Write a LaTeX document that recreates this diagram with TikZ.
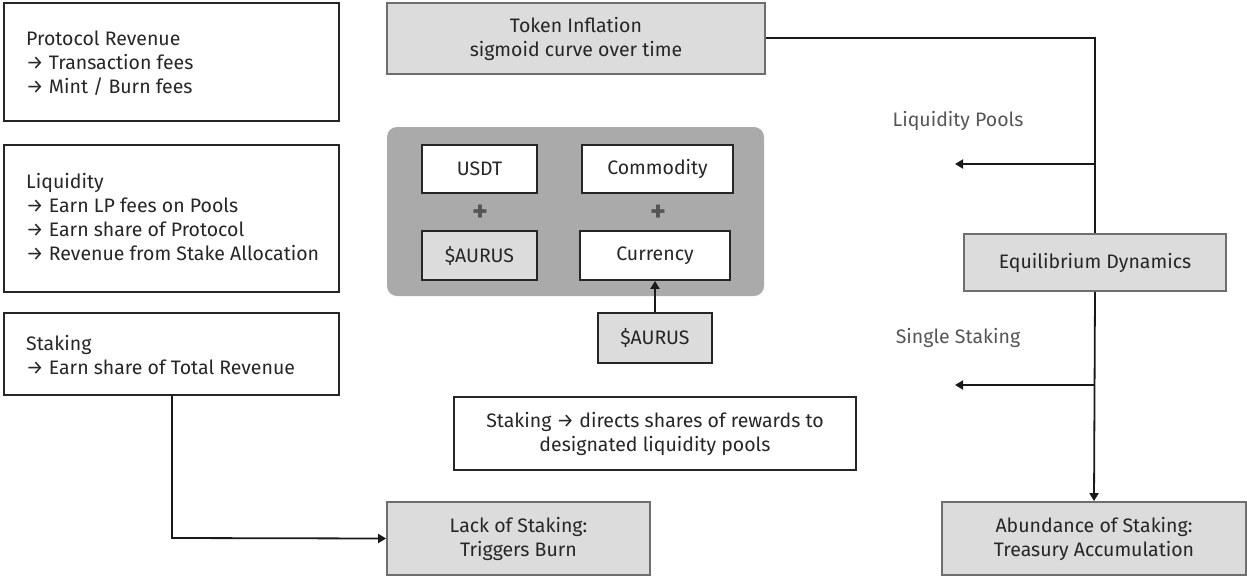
\documentclass[tikz,border=0pt]{standalone}
\usepackage{fontspec}
\setmainfont{Fira Sans}
\usetikzlibrary{arrows.meta}
\definecolor{boxgray}{HTML}{DCDCDC}
\definecolor{edgegray}{HTML}{6E6E6E}
\definecolor{contgray}{HTML}{AAAAAA}
\definecolor{labgray}{HTML}{555555}
\definecolor{plusgray}{HTML}{555555}
\begin{document}
\begin{tikzpicture}[x=1pt,y=-1pt,
  txt/.style={font=\fontsize{19.5}{24}\selectfont, text=black!85},
  ltxt/.style={txt, align=left, anchor=north west, inner sep=0pt},
  whitebox/.style={draw=black!85, line width=1.8pt, fill=white, minimum height=0pt, inner sep=0pt},
  graybox/.style={draw=edgegray, line width=1.8pt, fill=boxgray, inner sep=0pt},
  conn/.style={line width=1.8pt, draw=black!90},
  arr/.style={conn, -{Triangle[length=8pt,width=9pt]}},
  lab/.style={font=\fontsize{19.5}{24}\selectfont, text=labgray},
  plus/.style={font=\fontsize{30}{30}\selectfont\bfseries, text=plusgray}
]
\useasboundingbox (0,0) rectangle (1247,576);
% left boxes
\node[whitebox, minimum width=335pt, minimum height=118pt] (rev) at (171.5,62) {};
\node[ltxt] (revt) at (26,31) {Protocol Revenue\\→ Transaction fees\\→ Mint / Burn fees};
\node[whitebox, minimum width=335pt, minimum height=147pt] (liq) at (171.5,218.5) {};
\node[ltxt] (liqt) at (26,173.5) {Liquidity\\→ Earn LP fees on Pools\\→ Earn share of Protocol\\→ Revenue from Stake Allocation};
\node[whitebox, minimum width=335pt, minimum height=82pt] (stk) at (171.5,354) {};
\node[ltxt] (stkt) at (26,335) {Staking\\→ Earn share of Total Revenue};
% token inflation
\node[graybox, minimum width=378pt, minimum height=71pt, txt, align=center] (tok) at (576,38.5) {Token Inflation\\sigmoid curve over time};
% container
\node[draw=none, fill=contgray, rounded corners=10pt, minimum width=377pt, minimum height=169pt, inner sep=0pt] (cont) at (575.5,211.5) {};
\node[whitebox, minimum width=115pt, minimum height=48pt, txt] (usdt) at (479.5,169) {USDT};
\node[whitebox, minimum width=151pt, minimum height=48pt, txt] (comm) at (657.5,169) {Commodity};
\node[graybox, draw=black!85, minimum width=115pt, minimum height=49pt, txt] (aur1) at (479.5,255.5) {\$AURUS};
\node[whitebox, minimum width=150pt, minimum height=49pt, txt] (curr) at (655,255.5) {Currency};
\node[plus] (p1) at (480,213) {+};
\node[plus] (p2) at (658,213) {+};
\node[graybox, draw=black!85, minimum width=114pt, minimum height=50pt, txt] (aur2) at (655,338) {\$AURUS};
\draw[arr] (aur2.north) -- (aur2.north |- curr.south);
% directs box
\node[whitebox, minimum width=402pt, minimum height=73pt, txt, align=center] (dir) at (655,433.5) {Staking → directs shares of rewards to\\designated liquidity pools};
% bottom boxes
\node[graybox, minimum width=263pt, minimum height=73pt, txt, align=center] (lack) at (518.5,538.5) {Lack of Staking:\\Triggers Burn};
\node[graybox, minimum width=304pt, minimum height=73pt, txt, align=center] (abund) at (1094,538.5) {Abundance of Staking:\\Treasury Accumulation};
\node[graybox, minimum width=262pt, minimum height=57pt, txt] (eq) at (1095,262.5) {Equilibrium Dynamics};
% right side connectors
\coordinate (c1) at (1095,38);
\coordinate (lpend) at (955,164);
\coordinate (ssend) at (955,385);
\draw[conn] (tok.east |- c1) -- (c1) -- (eq.north);
\draw[arr] (c1 |- lpend) -- (lpend);
\draw[arr] (eq.south) -- (abund.north);
\draw[arr] (c1 |- ssend) -- (ssend);
\node[lab] (lpl) at (958,121) {Liquidity Pools};
\node[lab] (ssl) at (958,338) {Single Staking};
% staking to lack
\draw[arr] (172,395) -- (172,538) -- (lack.west);
\end{tikzpicture}
\end{document}
